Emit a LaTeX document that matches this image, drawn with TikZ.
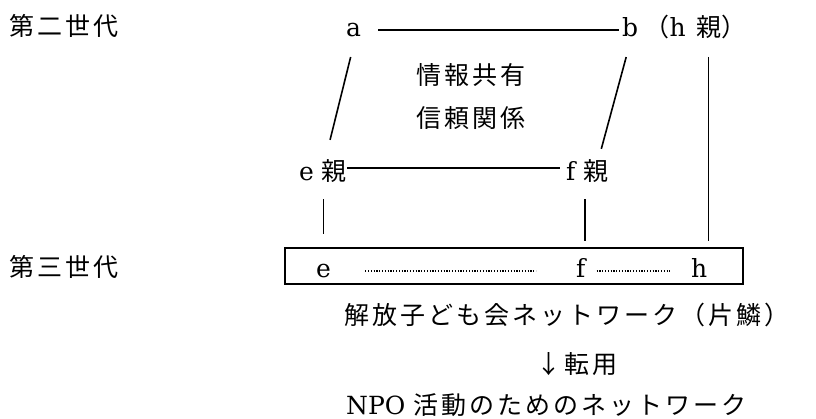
\documentclass[tikz,border=0pt]{standalone}
\usepackage{fontspec}
\setmainfont{DejaVu Serif}
\newfontfamily\jpfont[LetterSpace=12,Scale=1.0]{Noto Sans CJK JP}
\newcommand\J[1]{{\jpfont #1}}
\begin{document}
\begin{tikzpicture}[x=1pt,y=-1pt,
  font=\fontsize{25}{30}\selectfont,
  t/.style={inner sep=0pt, anchor=base west},
  ln/.style={line width=1.6pt},
  dots/.style={line width=1.2pt, dash pattern=on 1.2pt off 1.6pt}]
\useasboundingbox[fill=white] (0,0) rectangle (816,419);
% labels
\node[t] (g2) at (9,36) {\J{第二世代}};
\node[t] (g3) at (9,277) {\J{第三世代}};
\node[t] (a) at (346,37) {a};
\node[t] (b) at (622,37) {b};
\node[t] (bl) at ([xshift=6pt]b.base east) {\J{（}h};
\node[t] (hp) at ([xshift=10pt]bl.base east) {\J{親}};
\node[t] (br) at (hp.base east) {\J{）}};
\node[t] (ip) at (416,85) {\J{情報共有}};
\node[t] (sr) at (416,128) {\J{信頼関係}};
\node[t] (ep) at (299,181) {e \J{親}};
\node[t] (fp) at (566,181) {f \J{親}};
\node[draw, line width=2pt, minimum width=458pt, minimum height=36pt, inner sep=0pt] (box) at (514,266) {};
\node[t] (eb) at (316,278) {e};
\node[t] (fb) at (576,278) {f};
\node[t] (hb) at (691,278) {h};
\node[t] (kai) at (344,324) {\J{解放子ども会ネットワーク（片鱗）}};
\node[t] (ten) at (536,373) {\J{↓転用}};
\node[t] (npo) at (346,414) {NPO \J{活動のためのネットワーク}};
% connectors
\draw[ln] ([shift={(17,-7)}]a.base east) -- ([shift={(-3,-7)}]b.base west);
\draw[ln] ([shift={(-3,20)}]a.base) -- ([shift={(7,-20)}]ep.north);
\draw[ln] ([shift={(-4,20)}]b.base) -- ([shift={(14,-11)}]fp.north);
\draw[ln] ([shift={(0,20)}]hp.base) -- ([shift={(0,-6)}]hp.base |- box.north);
\draw[ln] ([shift={(0,-13)}]ep.base east) -- ([shift={(-6,-13)}]fp.base west);
\draw[ln] ([shift={(0,16)}]eb.north |- ep.south) -- ([shift={(0,-13)}]eb.north |- box.north);
\draw[ln] ([shift={(4,16)}]fb.north |- fp.south) -- ([shift={(4,-6)}]fb.north |- box.north);
\draw[dots] ([shift={(34,-7)}]eb.base east) -- ([shift={(-40,-7)}]fb.base west);
\draw[dots] ([shift={(11,-7)}]fb.base east) -- ([shift={(-21,-7)}]hb.base west);
\end{tikzpicture}
\end{document}
